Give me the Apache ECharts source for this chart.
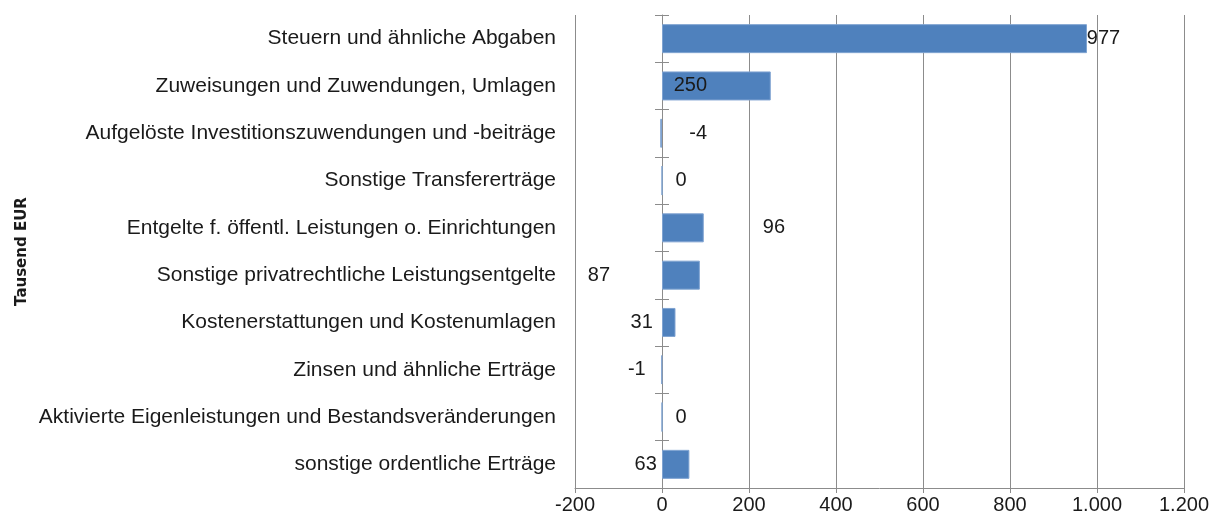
<!DOCTYPE html>
<html>
<head>
<meta charset="utf-8">
<script src="https://cdn.jsdelivr.net/npm/echarts@6/dist/echarts.min.js"></script>
<style>
  html, body { margin: 0; padding: 0; background: #fff; }
  #chart { width: 1220px; height: 521px; }
</style>
</head>
<body>
<div id="chart"></div>
<script>
const categories = [
  'Steuern und ähnliche Abgaben',
  'Zuweisungen und Zuwendungen, Umlagen',
  'Aufgelöste Investitionszuwendungen und -beiträge',
  'Sonstige Transfererträge',
  'Entgelte f. öffentl. Leistungen o. Einrichtungen',
  'Sonstige privatrechtliche Leistungsentgelte',
  'Kostenerstattungen und Kostenumlagen',
  'Zinsen und ähnliche Erträge',
  'Aktivierte Eigenleistungen und Bestandsveränderungen',
  'sonstige ordentliche Erträge'
];
const values = [977, 250, -4, 0, 96, 87, 31, -1, 0, 63];
const axisMin = -200;
const axisMax = 1200;
const axisStep = 200;

// label shifts (px) to mimic the hand-placed data labels of the original
const labelShift = [229, -26, 37, 19, 91, -82, -27, -25, 19, -30];

const font = '"Liberation Sans", Arial, sans-serif';
const textColor = '#1a1a1a';
const lineColor = '#8c8c8c';

const chart = echarts.init(document.getElementById('chart'));

// axis drawn on the zero line, only for the line and the crossing ticks
const zeroAxis = (inside, xIndex) => ({
  type: 'category',
  position: 'left',
  inverse: true,
  data: categories,
  axisLine: { show: !inside, onZero: true, onZeroAxisIndex: xIndex, lineStyle: { color: lineColor } },
  axisTick: { show: true, inside: inside, length: 7, lineStyle: { color: lineColor } },
  axisLabel: { show: false },
  splitLine: { show: false }
});

chart.setOption({
  animation: false,
  backgroundColor: '#fff',
  grid: { left: 575, right: 36, top: 15, bottom: 33 },
  xAxis: [{
    type: 'value',
    min: axisMin,
    max: axisMax,
    interval: axisStep,
    axisLine: { show: true, lineStyle: { color: lineColor } },
    axisTick: { show: true, length: 5, lineStyle: { color: lineColor } },
    splitLine: { show: true, lineStyle: { color: lineColor } },
    axisLabel: {
      color: textColor,
      fontFamily: font,
      fontSize: 20,
      margin: 7,
      formatter: (v) => v.toLocaleString('de-DE')
    }
  }, {
    type: 'value',
    min: axisMin,
    max: axisMax,
    interval: axisStep,
    position: 'top',
    axisLine: { show: false },
    axisTick: { show: false },
    axisLabel: { show: false },
    splitLine: { show: false }
  }],
  yAxis: [{
    type: 'category',
    position: 'left',
    inverse: true,
    data: categories,
    axisLine: { show: false, onZero: false },
    axisTick: { show: false },
    axisLabel: {
      color: textColor,
      fontFamily: font,
      fontSize: 21,
      margin: 19
    },
    name: 'Tausend EUR',
    nameLocation: 'middle',
    nameGap: 545,
    nameRotate: 90,
    nameTextStyle: {
      color: textColor,
      fontFamily: '"DejaVu Sans", sans-serif',
      fontSize: 15,
      fontWeight: 'bold'
    }
  }, zeroAxis(false, 0), zeroAxis(true, 1)],
  series: [{
    type: 'bar',
    xAxisIndex: 0,
    yAxisIndex: 0,
    barWidth: 29,
    data: values.map((v, i) => ({
      value: v,
      label: { offset: [labelShift[i], 0] }
    })),
    itemStyle: { color: '#4f81bd', borderColor: '#7fa3d1', borderWidth: 1 },
    label: {
      show: true,
      position: 'inside',
      color: textColor,
      fontFamily: font,
      fontSize: 20,
      textBorderWidth: 0
    }
  }]
});
</script>
</body>
</html>
